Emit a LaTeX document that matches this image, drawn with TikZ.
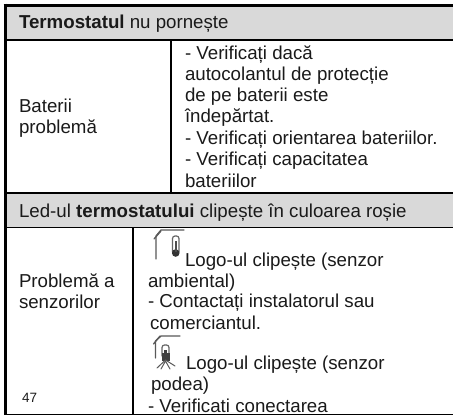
\documentclass[tikz,border=0pt]{standalone}
\usepackage{fontspec}
\setmainfont{Liberation Sans}
\definecolor{hdr}{HTML}{D9D9D9}
\definecolor{ink}{HTML}{1A1A1A}
\tikzset{
  x=1pt,y=-1pt,
  txt/.style={inner sep=0pt,outer sep=0pt,anchor=base west,text=ink,font=\fontsize{18.7}{24}\selectfont,align=left},
  rule/.style={draw=black,line width=1.5pt},
  heavy/.style={draw=black,line width=3pt},
  icon/.style={draw=black!65,line width=1.3pt,line cap=round},
  tube/.style={draw=black!60,line width=1.2pt,fill=white,rounded corners=2.5pt},
}
\begin{document}
\begin{tikzpicture}
\useasboundingbox (0,0) rectangle (454,415);
\fill[white] (0,0) rectangle (454,415);
\fill[hdr] (4,5) rectangle (453,40);
\fill[hdr] (4,193) rectangle (453,227);
\draw[heavy] (3.5,5) -- (453,5);
\draw[heavy] (5,3.5) -- (5,415);
\draw[rule] (4,40) -- (453,40);
\draw[rule] (4,193) -- (453,193);
\draw[rule] (4,227.5) -- (453,227.5);
\draw[rule] (171,40) -- (171,193);
\draw[rule] (133,227) -- (133,415);
\draw[rule] (4,414.3) -- (453,414.3);
\node[txt] (t1) at (19,28) {\textbf{Termostatul} nu pornește};
\node[txt] (b1) at (19,112) {Baterii};
\node[txt] (b2) at (19,133) {problemă};
\node[txt] (a1) at (185,59) {- Verificați dacă};
\node[txt] (a2) at (185,80) {autocolantul de protecție};
\node[txt] (a3) at (185,101) {de pe baterii este};
\node[txt] (a4) at (185,122) {îndepărtat.};
\node[txt] (a5) at (185,144) {- Verificați orientarea bateriilor.};
\node[txt] (a6) at (185,165) {- Verificați capacitatea};
\node[txt] (a7) at (185,187) {bateriilor};
\node[txt] (t2) at (19,217) {Led-ul \textbf{termostatului} clipește în culoarea roșie};
\node[txt] (p1) at (19,287) {Problemă a};
\node[txt] (p2) at (19,308) {senzorilor};
\node[txt] (l1) at (185,266) {Logo-ul clipește (senzor};
\node[txt] (l2) at (148,287) {ambiental)};
\node[txt] (l3) at (148,307) {- Contactați instalatorul sau};
\node[txt] (l4) at (150,329) {comerciantul.};
\node[txt] (l5) at (186,369) {Logo-ul clipește (senzor};
\node[txt] (l6) at (151,390) {podea)};
\node[txt] (l7) at (148,412) {- Verificati conectarea};
\node[txt,font=\fontsize{13.5}{15}\selectfont] (n) at (22,402) {47};
% ambient sensor icon
\draw[icon] (156,259) -- (156,236) -- (161,230) -- (184,230);
\draw[icon] (154,239) -- (161,231);
\draw[tube] (172.5,236) rectangle (179,254);
\fill[black!80] (175.7,253) circle[radius=3.8];
\fill[black!70] (174.8,241) rectangle (176.8,252);
% floor sensor icon
\draw[icon] (155.5,358) -- (155.5,341) -- (161,336) -- (180,336);
\draw[icon] (153.5,344) -- (160,336);
\draw[tube] (162,345) rectangle (169,358);
\fill[black!75] (161.5,353) rectangle (169.5,361);
\fill[black!75] (164,350) rectangle (167,354);
\draw[icon,line width=1pt] (157,368) -- (165.5,360) -- (175,366);
\draw[icon,line width=1pt] (161,369) -- (165.5,361) -- (170,369);
\end{tikzpicture}
\end{document}
